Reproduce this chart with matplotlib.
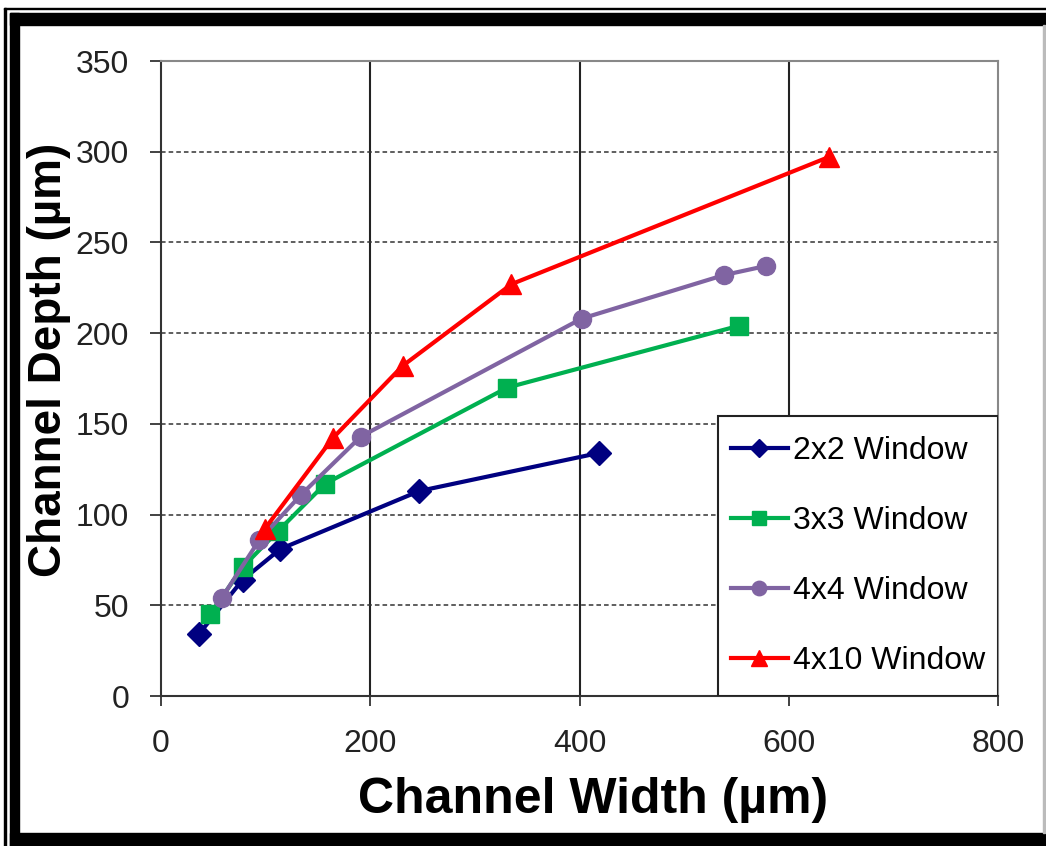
import numpy as np
import matplotlib.pyplot as plt
from matplotlib.patches import Rectangle

plt.rcParams['font.family'] = ['Liberation Sans', 'DejaVu Sans']

# data (width um, depth um)
w_2x2 = [36, 78, 114, 247, 419]
d_2x2 = [34, 64, 81, 113, 134]

w_3x3 = [47, 78, 112, 157, 331, 552]
d_3x3 = [45, 71, 91, 117, 170, 204]

w_4x4 = [58, 94, 134, 191, 402, 538, 578]
d_4x4 = [54, 86, 111, 143, 208, 232, 237]

w_4x10 = [99, 164, 231, 335, 638]
d_4x10 = [92, 142, 182, 227, 297]

labels = ["2x2 Window", "3x3 Window", "4x4 Window", "4x10 Window"]

W, H = 1046, 846
fig = plt.figure(figsize=(W/100, H/100), dpi=100)
ax = fig.add_axes([161/W, 1-696/H, (998-161)/W, (696-61)/H])

ax.plot(w_2x2, d_2x2, color='#000080', lw=3, marker='D', ms=12, label=labels[0])
ax.plot(w_3x3, d_3x3, color='#00B050', lw=3, marker='s', ms=13, label=labels[1])
ax.plot(w_4x4, d_4x4, color='#8064A2', lw=3, marker='o', ms=13, label=labels[2])
ax.plot(w_4x10, d_4x10, color='#FF0000', lw=3, marker='^', ms=14, label=labels[3])

ax.set_xlim(0, 800)
ax.set_ylim(0, 350)
ax.set_xticks(np.arange(0, 801, 200))
ax.set_yticks(np.arange(0, 351, 50))
for xv in [200, 400, 600]:
    ax.axvline(xv, color='#222222', lw=1.5, zorder=0)
for yv in range(50, 301, 50):
    ax.axhline(yv, color='#333333', lw=1.1, ls=(0, (3, 2)), zorder=0)

ax.tick_params(labelsize=23, labelcolor='#222222', direction='out',
               width=1.3, color='#333333')
ax.tick_params(axis='x', length=7, pad=17)
ax.tick_params(axis='y', length=8, pad=15)
for s in ['left', 'bottom']:
    ax.spines[s].set_color('#333333')
    ax.spines[s].set_linewidth(1.5)
for s in ['top', 'right']:
    ax.spines[s].set_color('#888888')
    ax.spines[s].set_linewidth(1.5)

fig.text(593/W, 1-800/H, "Channel Width (µm)", fontsize=36, fontweight='bold',
         ha='center', va='center')
fig.text(49/W, 1-360/H, "Channel Depth (µm)", fontsize=33, fontweight='bold',
         ha='center', va='center', rotation=90)

# legend box in the lower right corner of the axes
box = [(718-161)/837, 0, (998-718)/837, (696-416)/635]
ax.add_patch(Rectangle((box[0], box[1]), box[2], box[3], transform=ax.transAxes,
                       facecolor='white', edgecolor='#222222', lw=1.5, zorder=4))
leg = ax.legend(loc='center', bbox_to_anchor=(box[0], box[1], box[2], box[3]),
                borderaxespad=0, frameon=False,
                fontsize=23, handlelength=1.8, handletextpad=0.15,
                labelspacing=1.25, markerscale=0.8)
leg.set_zorder(5)

# outer picture frame
fig.patches.append(Rectangle((4/W, 0), 1.5/W, 1 - 8/H, transform=fig.transFigure,
                             color='black', fill=True))
fig.patches.append(Rectangle((4/W, 1 - 9.5/H), 1 - 4/W, 1.5/H, transform=fig.transFigure,
                             color='black', fill=True))
fig.patches.append(Rectangle((10/W, 0), 9/W, 1 - 13/H, transform=fig.transFigure,
                             color='black', fill=True))
fig.patches.append(Rectangle((10/W, 1 - 25/H), 1 - 10/W, 12/H, transform=fig.transFigure,
                             color='black', fill=True))
fig.patches.append(Rectangle((10/W, 0), 1 - 10/W, 13/H, transform=fig.transFigure,
                             color='black', fill=True))
fig.patches.append(Rectangle((1043/W, 13/H), 1.5/W, 1 - 38/H, transform=fig.transFigure,
                             color='#bbbbbb', fill=True))

fig.savefig("out.png", dpi=100)
